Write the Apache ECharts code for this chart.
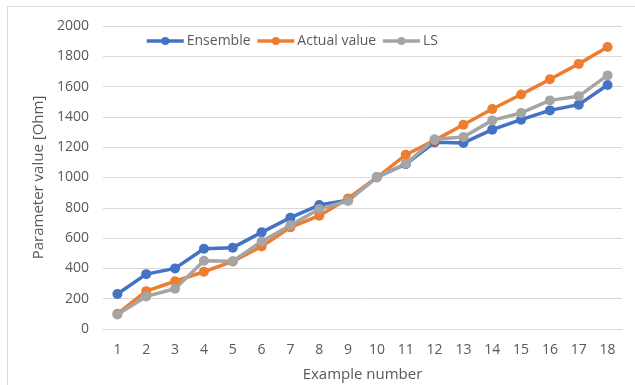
<!DOCTYPE html>
<html>
<head>
<meta charset="utf-8">
<script src="https://cdn.jsdelivr.net/npm/echarts@6/dist/echarts.min.js"></script>
<style>
  html, body { margin: 0; padding: 0; background: #fff; }
  #chart { width: 635px; height: 385px; }
</style>
</head>
<body>
<div id="chart"></div>
<script>
// Example numbers along the x axis
const examples = ['1','2','3','4','5','6','7','8','9','10','11','12','13','14','15','16','17','18'];

// Parameter values [Ohm] per example
const ensemble = [231, 362, 400, 530, 537, 638, 735, 818, 850, 1003, 1088, 1232, 1228, 1316, 1382, 1443, 1481, 1611];
const actual   = [100, 250, 315, 378, 446, 545, 671, 748, 862, 1000, 1150, 1245, 1348, 1452, 1548, 1648, 1750, 1861];
const ls       = [96, 215, 266, 451, 448, 578, 684, 792, 845, 1003, 1091, 1252, 1267, 1377, 1426, 1509, 1537, 1674];

// Y axis ticks
const yMin = 0, yMax = 2000, yStep = 200;

const font = 'Open Sans';
const textColor = '#595959';

const chart = echarts.init(document.getElementById('chart'), null, { renderer: 'canvas' });

function lineSeries(name, data, color) {
  return {
    name: name,
    type: 'line',
    data: data,
    symbol: 'circle',
    symbolSize: 10,
    lineStyle: { width: 3.5, color: color },
    itemStyle: { color: color },
    animation: false
  };
}

chart.setOption({
  animation: false,
  graphic: [{
    type: 'rect',
    shape: { x: 7.5, y: 6.5, width: 640, height: 400 },
    style: { fill: null, stroke: '#D9D9D9', lineWidth: 1 },
    silent: true
  }],
  legend: {
    top: 29,
    left: 140,
    itemWidth: 37,
    itemHeight: 10,
    itemGap: 5,
    lineStyle: { width: 3.5 },
    textStyle: { fontFamily: font, fontSize: 14, color: textColor, padding: [0, 0, 0, -2] },
    data: ['Ensemble', 'Actual value', 'LS']
  },
  grid: { left: 103, right: 13, top: 26, bottom: 56, outerBoundsMode: 'none', containLabel: false },
  xAxis: {
    type: 'category',
    data: examples,
    boundaryGap: true,
    name: 'Example number',
    nameLocation: 'middle',
    nameGap: 38,
    nameTextStyle: { fontFamily: font, fontSize: 15, color: textColor },
    axisLine: { lineStyle: { color: '#D9D9D9', width: 1 } },
    axisTick: { show: false },
    axisLabel: { fontFamily: font, fontSize: 14, color: textColor, margin: 14 }
  },
  yAxis: {
    type: 'value',
    min: yMin,
    max: yMax,
    interval: yStep,
    name: 'Parameter value [Ohm]',
    nameLocation: 'middle',
    nameGap: 54,
    nameTextStyle: { fontFamily: font, fontSize: 15, color: textColor },
    axisLine: { show: false },
    axisTick: { show: false },
    axisLabel: { fontFamily: font, fontSize: 14, color: textColor, margin: 14, formatter: v => String(v) },
    splitLine: { lineStyle: { color: '#D9D9D9', width: 1 } }
  },
  series: [
    lineSeries('Ensemble', ensemble, '#4472C4'),
    lineSeries('Actual value', actual, '#ED7D31'),
    lineSeries('LS', ls, '#A5A5A5')
  ]
});
</script>
</body>
</html>
